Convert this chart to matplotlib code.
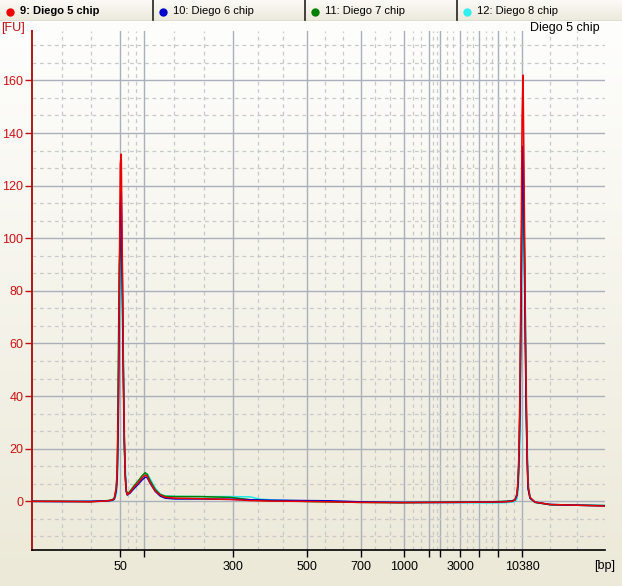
import numpy as np
import matplotlib
matplotlib.use('Agg')
import matplotlib.pyplot as plt
from matplotlib.colors import LinearSegmentedColormap

plt.rcParams['font.family'] = ['Liberation Sans', 'DejaVu Sans']

# ladder (bp) and where each ladder band sits on the migration axis (s)
ladder_bp = [50, 100, 300, 500, 700, 1000, 1500, 2000, 3000, 5000, 7000, 10380]
ladder_time = [28.8, 31.2, 40.1, 47.5, 52.84, 57.2, 59.72, 60.82, 62.8, 64.74, 66.6, 69.0]
labelled_bp = [50, 300, 500, 700, 1000, 3000, 10380]
x_start, x_end = 20.0, 77.3

samples = ['9: Diego 5 chip', '10: Diego 6 chip', '11: Diego 7 chip', '12: Diego 8 chip']
sample_colors = ['#ee0000', '#0000cc', '#008000', '#20e8e8']

# migration time grid (s)
time = [20.0, 22.8, 25.8, 27.6, 28.0, 28.2, 28.4, 28.5, 28.6, 28.7, 28.8, 28.9, 29.0, 29.1, 29.2, 29.3, 29.4, 29.5,
        29.8, 30.2, 30.6, 31.0, 31.3, 31.5, 31.8, 32.3, 32.8, 33.3, 34.3, 36.8, 39.8, 41.8, 42.8, 43.8, 46.8, 49.8,
        52.8, 56.8, 61.8, 65.8,
        67.3, 68.0, 68.3, 68.5, 68.6, 68.7, 68.8, 68.9, 69.0, 69.1, 69.2, 69.3, 69.4, 69.5, 69.6, 69.8, 70.3, 71.8,
        74.8, 77.3]

# fluorescence [FU]
fu_diego5 = [0.0, 0.0, -0.2, 0.2, 0.5, 1.0, 5.0, 12.0, 35.0, 80.0, 128.0, 132.0, 95.0, 55.0, 25.0, 10.0, 4.0, 2.5,
             3.5, 5.5, 7.0, 9.0, 10.0, 9.5, 7.0, 4.0, 2.4, 1.5, 1.2, 1.0, 0.7, 0.3, 0.2, 0.1, 0.0, -0.2,
             -0.4, -0.5, -0.4, -0.3,
             -0.2, 0.0, 0.5, 3.0, 8.0, 20.0, 45.0, 90.0, 145.0, 162.0, 125.0, 80.0, 45.0, 20.0, 6.0, 1.5, -0.3, -1.2,
             -1.5, -1.8]
fu_diego6 = [0.0, -0.1, 0.0, 0.2, 0.4, 0.8, 4.0, 10.0, 30.0, 72.0, 112.0, 118.0, 88.0, 52.0, 24.0, 10.0, 4.0, 2.4,
             3.2, 5.0, 6.5, 8.2, 9.2, 9.0, 6.8, 3.8, 2.0, 1.2, 0.9, 0.9, 0.8, 0.6, 0.5, 0.4, 0.3, 0.2,
             -0.2, -0.4, -0.4, -0.3,
             -0.1, 0.1, 0.6, 2.5, 7.0, 17.0, 38.0, 75.0, 120.0, 135.0, 105.0, 68.0, 38.0, 17.0, 5.0, 1.2, -0.3, -1.2,
             -1.5, -1.7]
fu_diego7 = [0.0, 0.0, -0.1, 0.3, 0.6, 1.2, 5.0, 12.0, 50.0, 90.0, 100.0, 96.0, 80.0, 48.0, 22.0, 9.0, 3.8, 2.6,
             4.0, 6.0, 7.8, 9.8, 10.9, 10.2, 7.8, 4.5, 2.6, 1.9, 1.8, 1.8, 1.5, 0.6, 0.4, 0.2, 0.0, -0.2,
             -0.4, -0.5, -0.3, -0.2,
             0.0, 0.2, 0.6, 2.5, 7.0, 17.0, 40.0, 80.0, 115.0, 125.0, 110.0, 72.0, 40.0, 18.0, 5.0, 1.2, -0.4, -1.3,
             -1.5, -1.6]
fu_diego8 = [0.0, 0.0, -0.1, 0.1, 0.3, 0.6, 2.5, 7.0, 22.0, 55.0, 88.0, 97.0, 90.0, 60.0, 30.0, 14.0, 5.0, 2.8,
             3.6, 4.8, 6.8, 9.0, 10.3, 10.5, 8.5, 5.0, 2.8, 2.0, 1.9, 1.8, 1.8, 1.7, 0.8, 0.6, 0.2, 0.0,
             -0.3, -0.5, -0.5, -0.6,
             -0.5, -0.3, 0.0, 1.0, 4.0, 10.0, 25.0, 55.0, 95.0, 118.0, 112.0, 85.0, 50.0, 25.0, 8.0, 1.5, -0.4, -1.2,
             -1.5, -1.6]

W, H = 622, 586
fig = plt.figure(figsize=(W / 100, H / 100), dpi=100)
fig.patch.set_facecolor('#ece9d8')

# panel background: white fading to beige
bar_h = 21
bg = fig.add_axes([0, 0, 1, (H - bar_h) / H], zorder=-10)
grad = LinearSegmentedColormap.from_list('bg', ['#fefefd', '#ece9d8'])
bg.imshow(np.linspace(0, 1, 256).reshape(-1, 1), aspect='auto', cmap=grad, extent=[0, 1, 0, 1])
bg.set_axis_off()

# sample tab bar at the top
bar = fig.add_axes([0, (H - bar_h) / H, 1, bar_h / H])
tabgrad = LinearSegmentedColormap.from_list('tab', ['#fbfaf6', '#ece9dc'])
bar.imshow(np.linspace(0, 1, 64).reshape(-1, 1), aspect='auto', cmap=tabgrad, extent=[0, W, bar_h, 0])
bar.set_xlim(0, W)
bar.set_ylim(bar_h, 0)
bar.set_axis_off()
tab_x = [0, 153, 305, 457]
for i, (name, col) in enumerate(zip(samples, sample_colors)):
    x0 = tab_x[i]
    if i > 0:
        bar.plot([x0, x0], [0, bar_h], color='#222222', lw=1.2)
    bar.plot(x0 + 9.5, 11.5, 'o', ms=6, color=col if col != '#20e8e8' else '#30f0f0', mec='none')
    bar.text(x0 + 20, 11.5, name, va='center', ha='left', fontsize=8,
             fontweight='bold' if i == 0 else 'normal', color='black')
bar.plot([0, W], [bar_h - 0.5, bar_h - 0.5], color='#b8b4a2', lw=1)

# main electropherogram
left, right, top, bottom = 32.3, 605, 30.7, 550
ax = fig.add_axes([left / W, (H - bottom) / H, (right - left) / W, (bottom - top) / H])
ax.set_facecolor('none')

for fu, col in zip([fu_diego8, fu_diego7, fu_diego6, fu_diego5], sample_colors[::-1]):
    ax.plot(time, fu, color=col, lw=1.1, zorder=3)

ax.set_xticks(ladder_time)
ax.set_xticklabels([str(b) if b in labelled_bp else '' for b in ladder_bp])
edges = [x_start] + ladder_time + [x_end]
minor_x = []
for a, b in zip(edges[:-1], edges[1:]):
    minor_x += [a + (b - a) / 3, a + 2 * (b - a) / 3]
ax.set_xticks(minor_x, minor=True)

ax.set_yticks(np.arange(0, 161, 20))
minor_y = [v for v in np.arange(-40, 200, 20 / 3) if v % 20 > 1 and v % 20 < 19]
ax.set_yticks(minor_y, minor=True)

ax.set_xlim(x_start, x_end)
ax.set_ylim(-18.5, 178.9)

ax.grid(True, which='major', color='#a9b0bc', lw=1.0, ls='-', zorder=0)
ax.grid(True, which='minor', color='#c9c9c9', lw=0.9, ls=(0, (3, 3)), zorder=0)
ax.set_axisbelow(True)

for s in ['top', 'right']:
    ax.spines[s].set_visible(False)
ax.spines['left'].set_color('#b01818')
ax.spines['left'].set_linewidth(1.4)
ax.spines['bottom'].set_color('black')
ax.spines['bottom'].set_linewidth(1.2)

ax.tick_params(axis='x', which='major', length=5, width=1, color='black', labelsize=9, pad=3)
ax.tick_params(axis='y', which='major', length=5, width=1, color='#c01010', labelcolor='#cc1010',
               labelsize=9, pad=1.5)
ax.tick_params(which='minor', length=0)

fig.text(1.5 / W, 1 - 28.5 / H, '[FU]', color='#c01010', fontsize=9, ha='left', va='center')
fig.text(600 / W, 1 - 28 / H, 'Diego 5 chip', color='black', fontsize=9, ha='right', va='center')
fig.text(605 / W, 1 - 565.5 / H, '[bp]', color='black', fontsize=9, ha='center', va='center')

fig.savefig('out.png', dpi=100, facecolor=fig.get_facecolor())
